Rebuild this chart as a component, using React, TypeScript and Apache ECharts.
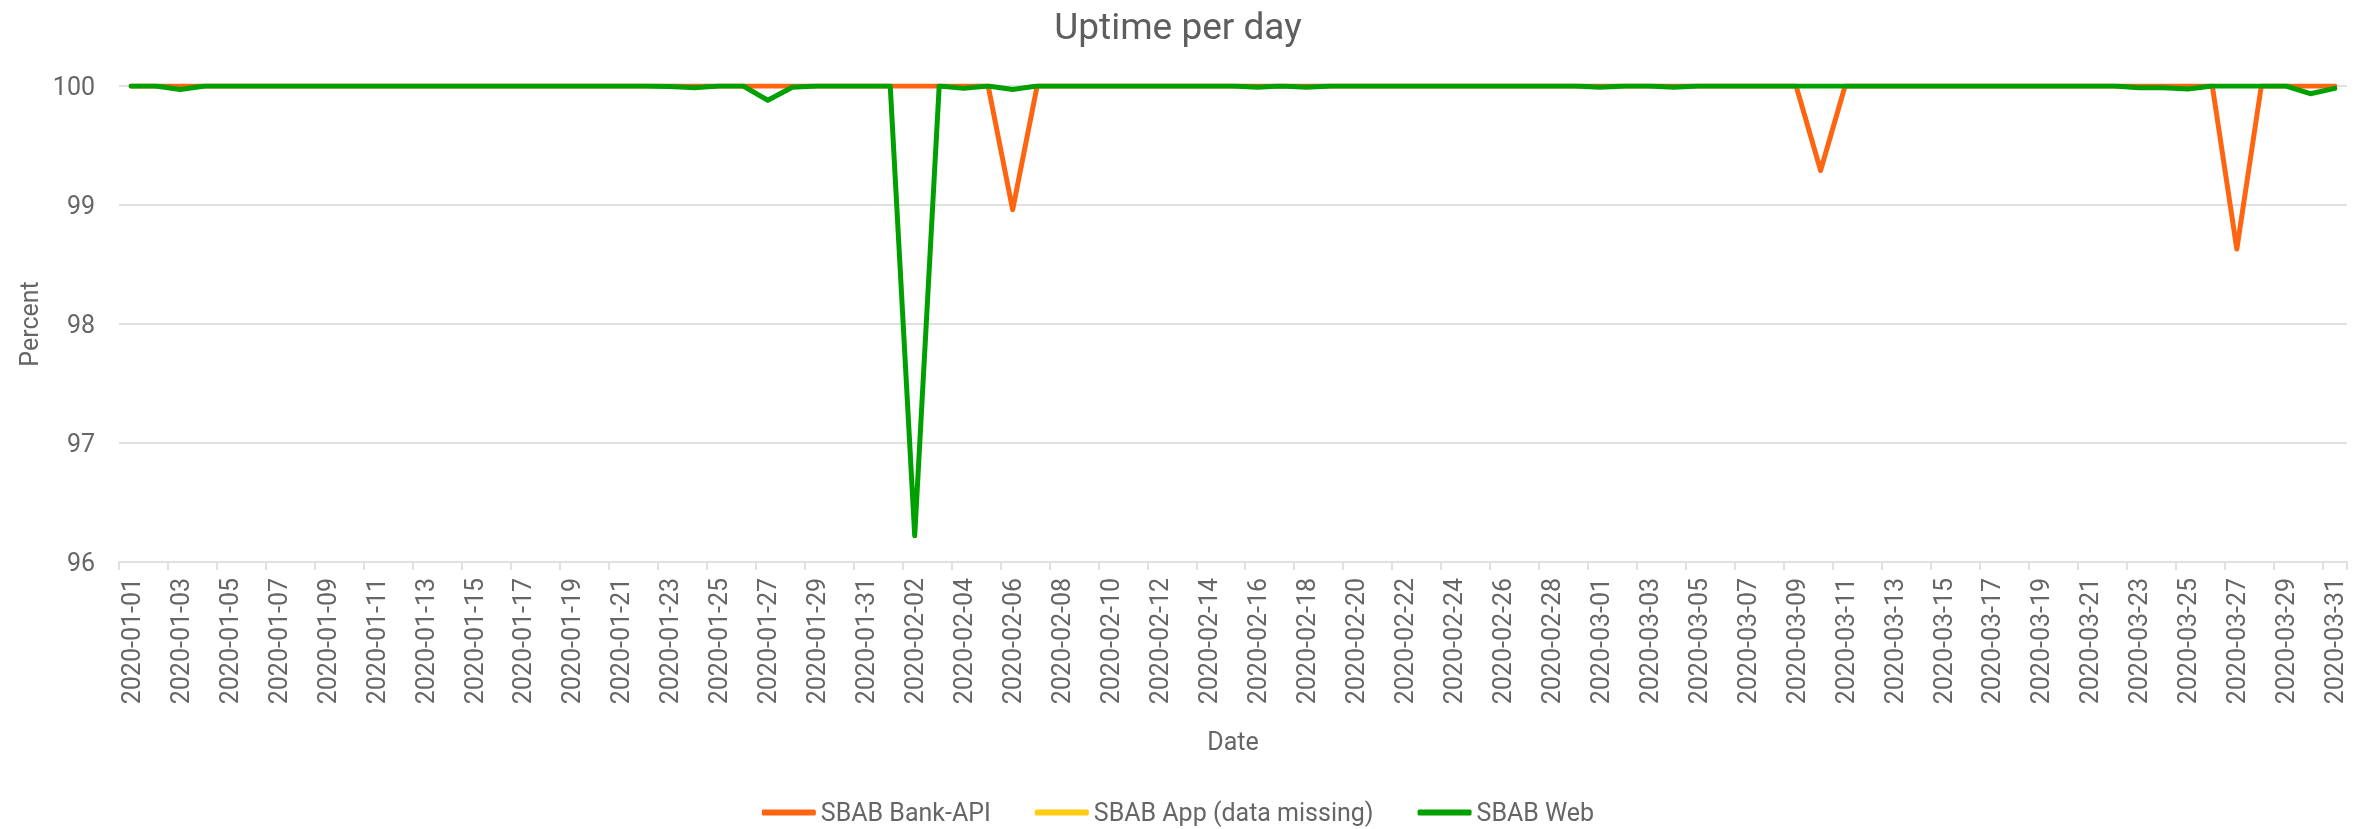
import React, { useEffect, useRef } from "react";
import * as echarts from "echarts";

const dates: string[] = [
  "2020-01-01","2020-01-02","2020-01-03","2020-01-04","2020-01-05","2020-01-06","2020-01-07","2020-01-08","2020-01-09","2020-01-10",
  "2020-01-11","2020-01-12","2020-01-13","2020-01-14","2020-01-15","2020-01-16","2020-01-17","2020-01-18","2020-01-19","2020-01-20",
  "2020-01-21","2020-01-22","2020-01-23","2020-01-24","2020-01-25","2020-01-26","2020-01-27","2020-01-28","2020-01-29","2020-01-30",
  "2020-01-31",
  "2020-02-01","2020-02-02","2020-02-03","2020-02-04","2020-02-05","2020-02-06","2020-02-07","2020-02-08","2020-02-09","2020-02-10",
  "2020-02-11","2020-02-12","2020-02-13","2020-02-14","2020-02-15","2020-02-16","2020-02-17","2020-02-18","2020-02-19","2020-02-20",
  "2020-02-21","2020-02-22","2020-02-23","2020-02-24","2020-02-25","2020-02-26","2020-02-27","2020-02-28","2020-02-29",
  "2020-03-01","2020-03-02","2020-03-03","2020-03-04","2020-03-05","2020-03-06","2020-03-07","2020-03-08","2020-03-09","2020-03-10",
  "2020-03-11","2020-03-12","2020-03-13","2020-03-14","2020-03-15","2020-03-16","2020-03-17","2020-03-18","2020-03-19","2020-03-20",
  "2020-03-21","2020-03-22","2020-03-23","2020-03-24","2020-03-25","2020-03-26","2020-03-27","2020-03-28","2020-03-29","2020-03-30",
  "2020-03-31",
];

const bankApiJan: number[] = [
  100,100,100,100,100,100,100,100,100,100,
  100,100,100,100,100,100,100,100,100,100,
  100,100,100,100,100,100,100,100,100,100,
  100,
];
const bankApiFeb: number[] = [
  100,100,100,100,100,98.96,100,100,100,100,
  100,100,100,100,100,100,100,100,100,100,
  100,100,100,100,100,100,100,100,100,
];
const bankApiMar: number[] = [
  100,100,100,100,100,100,100,100,100,99.29,
  100,100,100,100,100,100,100,100,100,100,
  100,100,100,100,100,100,98.63,100,100,100,
  100,
];

const webJan: number[] = [
  100,100,99.97,100,100,100,100,100,100,100,
  100,100,100,100,100,100,100,100,100,100,
  100,100,99.995,99.985,100,100,99.88,99.99,100,100,
  100,
];
const webFeb: number[] = [
  100,96.22,100,99.98,100,99.97,100,100,100,100,
  100,100,100,100,100,99.99,100,99.99,100,100,
  100,100,100,100,100,100,100,100,100,
];
const webMar: number[] = [
  99.99,100,100,99.99,100,100,100,100,100,100,
  100,100,100,100,100,100,100,100,100,100,
  100,100,99.985,99.985,99.975,100,100,100,100,99.935,
  99.98,
];

// SBAB App: data missing
const appValues: (number | null)[] = [];

const bankApi = [...bankApiJan, ...bankApiFeb, ...bankApiMar];
const web = [...webJan, ...webFeb, ...webMar];

const seriesNames = ["SBAB Bank-API", "SBAB App (data missing)", "SBAB Web"];
const seriesColors = ["#ff6511", "#ffcc11", "#00a000"];

const yMin = 96;
const yMax = 100;
const yStep = 1;

const FONT = "Roboto";
const TEXT_COLOR = "#666666";
const GRID_COLOR = "#e0e0e0";

export default function App() {
  const ref = useRef<HTMLDivElement>(null);

  useEffect(() => {
    if (!ref.current) return;
    const chart = echarts.init(ref.current, undefined, { renderer: "svg" });
    const seriesData = [bankApi, appValues, web];
    chart.setOption({
      animation: false,
      color: seriesColors,
      textStyle: { fontFamily: FONT },
      title: {
        text: "Uptime per day",
        left: "center",
        top: 3,
        textStyle: { fontFamily: FONT, fontSize: 37, fontWeight: "normal", color: "#5e5e5e" },
      },
      legend: {
        data: seriesNames,
        left: "center",
        top: 800,
        padding: 0,
        icon: "roundRect",
        itemWidth: 54,
        itemHeight: 6,
        itemGap: 44,
        textStyle: { fontFamily: FONT, fontSize: 25, color: TEXT_COLOR },
      },
      grid: { left: 119, right: 9, top: 86, bottom: 267, containLabel: false },
      xAxis: {
        type: "category",
        data: dates,
        boundaryGap: true,
        name: "Date",
        nameLocation: "middle",
        nameGap: 167,
        nameTextStyle: { fontFamily: FONT, fontSize: 25, color: TEXT_COLOR },
        axisLine: { show: true, lineStyle: { color: GRID_COLOR, width: 2 } },
        axisTick: { show: true, interval: 1, length: 8, lineStyle: { color: GRID_COLOR, width: 2 } },
        axisLabel: {
          interval: 1,
          rotate: 90,
          margin: 16,
          fontFamily: FONT,
          fontSize: 25,
          color: TEXT_COLOR,
        },
        splitLine: { show: false },
      },
      yAxis: {
        type: "value",
        min: yMin,
        max: yMax,
        interval: yStep,
        name: "Percent",
        nameLocation: "middle",
        nameGap: 76,
        nameTextStyle: { fontFamily: FONT, fontSize: 25, color: TEXT_COLOR },
        axisLine: { show: false },
        axisTick: { show: false },
        axisLabel: { margin: 24, fontFamily: FONT, fontSize: 25, color: TEXT_COLOR },
        splitLine: { show: true, lineStyle: { color: GRID_COLOR, width: 2 } },
      },
      series: seriesNames.map((name, i) => ({
        name,
        type: "line",
        data: seriesData[i],
        showSymbol: false,
        symbol: "none",
        lineStyle: { width: 5, color: seriesColors[i], cap: "round", join: "round" },
        itemStyle: { color: seriesColors[i] },
        z: 2 + i,
      })),
    });
    return () => chart.dispose();
  }, []);

  return (
    <div
      ref={ref}
      style={{ position: "fixed", left: 0, top: 0, width: 2356, height: 829 }}
    />
  );
}
